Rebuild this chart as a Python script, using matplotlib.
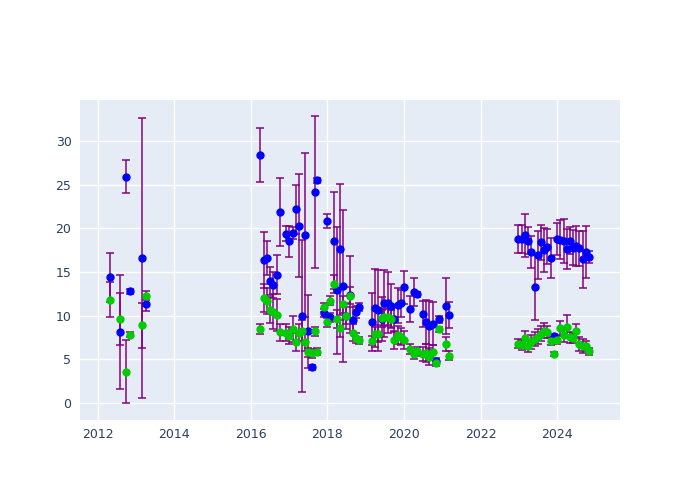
import numpy as np
import matplotlib
matplotlib.use('Agg')
import matplotlib.pyplot as plt


# blue series: decimal year, value, error
blue_x = [2012.31, 2012.58, 2012.73, 2012.84, 2013.15, 2013.25,
          2016.25, 2016.34, 2016.41, 2016.50, 2016.58, 2016.67, 2016.75, 2016.92,
          2017.00, 2017.09, 2017.17, 2017.25, 2017.33, 2017.41, 2017.50, 2017.59,
          2017.67, 2017.74, 2017.91, 2018.00, 2018.08, 2018.16, 2018.25, 2018.33,
          2018.41, 2018.49, 2018.58, 2018.66, 2018.75, 2018.83,
          2019.16, 2019.25, 2019.33, 2019.42, 2019.49, 2019.58, 2019.67, 2019.75,
          2019.84, 2019.92, 2020.00, 2020.16, 2020.25, 2020.33, 2020.50, 2020.58,
          2020.66, 2020.75, 2020.84, 2020.92, 2021.09, 2021.17,
          2022.99, 2023.08, 2023.16, 2023.25, 2023.33, 2023.42, 2023.50, 2023.58,
          2023.67, 2023.75, 2023.83, 2023.92, 2024.00, 2024.09, 2024.17, 2024.25,
          2024.33, 2024.42, 2024.50, 2024.58, 2024.67, 2024.76, 2024.84]
blue_y = [14.4, 8.1, 25.9, 12.8, 16.6, 11.3,
          28.4, 16.4, 16.6, 14.0, 13.5, 14.7, 21.9, 19.4,
          18.5, 19.5, 22.2, 20.3, 10.0, 19.2, 8.2, 4.1,
          24.2, 25.5, 10.3, 20.8, 9.8, 18.6, 12.9, 17.6,
          13.4, 10.0, 12.4, 9.5, 10.4, 11.0,
          9.25, 10.9, 10.6, 9.65, 11.4, 11.5, 11.15, 9.65,
          11.2, 11.4, 13.25, 10.75, 12.7, 12.45, 10.15, 9.3,
          8.85, 9.1, 4.8, 9.6, 11.1, 10.05,
          18.8, 18.8, 19.2, 18.6, 17.3, 13.25, 17.0, 18.4,
          17.5, 17.9, 16.6, 7.65, 18.8, 18.7, 18.55, 17.6,
          18.6, 17.8, 17.95, 17.7, 16.45, 17.3, 16.7]
blue_err = [2.8, 6.5, 1.9, 0.3, 16.0, 0.8,
            3.1, 3.2, 2.0, 1.6, 1.5, 2.2, 3.9, 0.9,
            1.8, 0.7, 2.8, 5.9, 8.7, 9.4, 4.2, 0.3,
            8.7, 0.3, 0.5, 0.8, 0.5, 5.6, 7.3, 7.5,
            8.7, 1.5, 4.4, 1.5, 0.7, 0.5,
            3.3, 4.5, 4.6, 2.5, 3.8, 3.5, 2.5, 1.5,
            2.0, 1.5, 1.9, 1.5, 1.6, 0.3, 1.5, 2.5,
            2.8, 2.5, 0.3, 0.4, 3.2, 1.5,
            1.6, 1.6, 2.5, 1.5, 1.8, 3.8, 2.75, 2.0,
            2.5, 2.0, 2.3, 0.3, 1.8, 2.2, 2.5, 2.3,
            1.5, 2.0, 2.3, 2.0, 3.3, 3.0, 0.7]

# green series
green_x = [2012.31, 2012.58, 2012.73, 2012.84, 2013.15, 2013.25,
           2016.25, 2016.34, 2016.41, 2016.50, 2016.58, 2016.67, 2016.75, 2016.92,
           2017.00, 2017.09, 2017.17, 2017.25, 2017.33, 2017.41, 2017.50, 2017.59,
           2017.67, 2017.74, 2017.91, 2018.00, 2018.08, 2018.16, 2018.25, 2018.33,
           2018.41, 2018.49, 2018.58, 2018.66, 2018.75, 2018.83,
           2019.16, 2019.25, 2019.33, 2019.42, 2019.49, 2019.58, 2019.67, 2019.75,
           2019.84, 2019.92, 2020.00, 2020.16, 2020.25, 2020.33, 2020.50, 2020.58,
           2020.66, 2020.75, 2020.84, 2020.92, 2021.09, 2021.17,
           2022.99, 2023.08, 2023.16, 2023.25, 2023.33, 2023.42, 2023.50, 2023.58,
           2023.67, 2023.75, 2023.83, 2023.92, 2024.00, 2024.09, 2024.17, 2024.25,
           2024.33, 2024.42, 2024.50, 2024.58, 2024.67, 2024.76, 2024.84]
green_y = [11.8, 9.6, 3.6, 7.8, 8.9, 12.3,
           8.5, 12.05, 11.7, 10.65, 10.45, 10.1, 8.1, 8.05,
           7.7, 8.5, 7.0, 8.05, 8.3, 6.95, 5.8, 5.7,
           8.2, 5.85, 10.95, 9.25, 11.7, 13.6, 9.6, 8.55,
           11.3, 10.0, 12.3, 8.05, 7.45, 7.2,
           7.15, 7.95, 7.95, 9.7, 9.8, 9.9, 9.6, 7.2,
           7.8, 7.6, 7.2, 6.2, 5.6, 5.9, 5.6, 5.7,
           5.3, 5.85, 4.55, 8.45, 6.8, 5.4,
           6.8, 6.65, 7.4, 6.55, 7.0, 7.3, 7.6, 7.95,
           8.3, 8.15, 7.1, 5.6, 7.2, 8.6, 7.8, 8.75,
           7.5, 7.45, 8.25, 6.7, 6.55, 6.5, 5.9]
green_err = [2.0, 3.0, 3.6, 0.3, 2.6, 0.5,
             0.6, 1.6, 1.5, 1.5, 2.0, 1.8, 1.0, 1.0,
             1.0, 1.5, 1.0, 1.0, 1.2, 1.0, 0.5, 0.5,
             0.5, 0.4, 0.5, 0.5, 0.5, 1.0, 1.0, 1.0,
             1.0, 1.0, 1.0, 1.0, 0.6, 0.4,
             0.5, 0.8, 1.0, 1.0, 1.0, 1.0, 1.0, 1.0,
             1.0, 1.0, 1.0, 0.6, 0.6, 0.5, 0.8, 1.0,
             1.0, 0.8, 0.3, 0.3, 0.8, 0.5,
             0.5, 0.6, 0.8, 0.7, 0.8, 0.8, 0.9, 0.9,
             0.9, 0.7, 0.5, 0.2, 0.5, 0.8, 0.8, 1.3,
             0.6, 0.6, 0.8, 0.8, 0.8, 0.6, 0.4]

x_ticks = [2012, 2014, 2016, 2018, 2020, 2022, 2024]
y_ticks = [0, 5, 10, 15, 20, 25, 30]

fig = plt.figure(figsize=(7, 5), dpi=100)
ax = fig.add_axes([0.114, 0.16, 0.772, 0.64])
ax.set_facecolor('#E5ECF6')

# bars first, then markers on top
ax.errorbar(blue_x, blue_y, yerr=blue_err, fmt='none', ecolor='#800080',
            elinewidth=1.2, capsize=3, capthick=1.2, alpha=0.9, zorder=2)
ax.plot(blue_x, blue_y, 'o', color='#0000ff', markersize=5, zorder=3)
ax.errorbar(green_x, green_y, yerr=green_err, fmt='none', ecolor='#800080',
            elinewidth=1.2, capsize=3, capthick=1.2, alpha=0.9, zorder=2)
ax.plot(green_x, green_y, 'o', color='#00cc00', markersize=5, zorder=3)

ax.set_xlim(2011.53, 2025.65)
ax.set_ylim(-1.95, 34.7)
ax.set_xticks(x_ticks)
ax.set_yticks(y_ticks)
ax.grid(color='white', linewidth=1)
ax.set_axisbelow(True)
for s in ax.spines.values():
    s.set_visible(False)
ax.tick_params(length=0, labelsize=9, colors='#2a3f5f', pad=6)

fig.savefig('out.png')
